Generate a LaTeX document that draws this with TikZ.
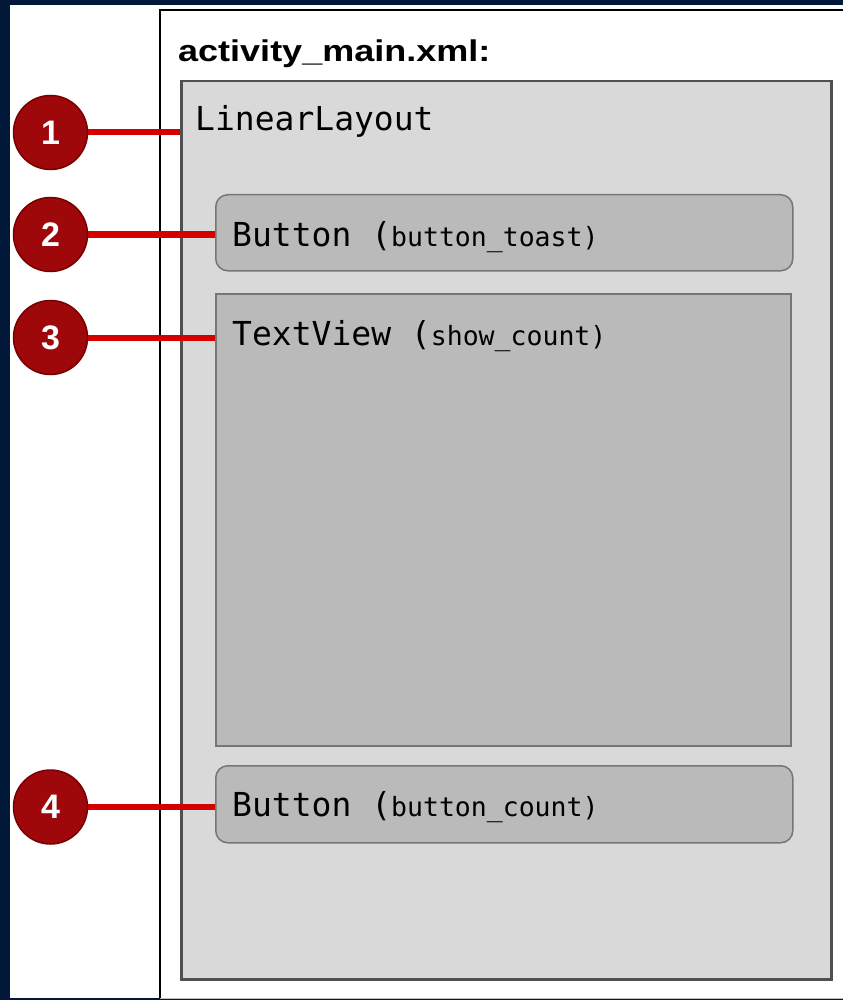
\documentclass[tikz,border=0pt]{standalone}
\usepackage{fontspec}
\setmainfont{Liberation Sans}
\setmonofont{DejaVu Sans Mono}
\usetikzlibrary{positioning}

\definecolor{navy}{RGB}{2,24,56}
\definecolor{layoutgray}{RGB}{217,217,217}
\definecolor{layoutline}{RGB}{80,80,80}
\definecolor{widgetgray}{RGB}{186,186,186}
\definecolor{widgetline}{RGB}{118,118,118}
\definecolor{badgered}{RGB}{158,8,10}
\definecolor{badgeline}{RGB}{120,0,0}
\definecolor{pinred}{RGB}{212,0,0}

\newcommand{\viewid}[1]{{\fontsize{26.5}{26.5}\selectfont #1}}

\begin{document}
\begin{tikzpicture}[x=1pt,y=-1pt]
        \tikzstyle{every node}+=[inner sep=0pt]
        \tikzset{
          badge/.style={circle,draw=badgeline,line width=1.5pt,fill=badgered,minimum size=74pt,
            text=white,font=\fontsize{34}{34}\bfseries\selectfont},
          widget/.style={draw=widgetline,line width=1.5pt,fill=widgetgray,anchor=north west},
          pin/.style={draw=pinred,line width=6pt},
          lbl/.style={anchor=base west,font=\fontsize{33}{33}\ttfamily\selectfont}
        }
        \useasboundingbox (0,0) rectangle (843,1000);
        \fill [navy] (0,0) rectangle (843,1000);
        \fill [white] (10,5) rectangle (843,998);
        \draw [black,line width=2pt] (843,10) -- (160,10) -- (160,998);
        \draw [black!25,line width=1pt] (160,998) -- (843,998);
        \node [anchor=base west] (title) at (178,62) {\scalebox{1.2}[1]{\fontsize{30}{30}\bfseries\selectfont activity\_main.xml:}};
        % layout and its views
        \node [widget,draw=layoutline,fill=layoutgray,line width=2.5pt,minimum width=650pt,minimum height=898pt] (linlay) at (180,80) {};
        \node [widget,rounded corners=12pt,minimum width=577pt,minimum height=76pt] (btntoast) at (215,194) {};
        \node [widget,minimum width=575pt,minimum height=452pt] (txtview) at (215,293) {};
        \node [widget,rounded corners=12pt,minimum width=577pt,minimum height=77pt] (btncount) at (215,765) {};
        \node [lbl] (linlaytxt) at (195,130.7) {LinearLayout};
        \node [lbl] (toasttxt) at (232,246.7) {Button (\viewid{button\_toast)}};
        \node [lbl] (counttxt) at (232,345) {TextView (\viewid{show\_count)}};
        \node [lbl] (btncounttxt) at (232,816.7) {Button (\viewid{button\_count)}};
        % numbered callouts
        \node [badge] (b1) at (50.5,132.5) {1};
        \node [badge] (b2) at (50.5,234.5) {2};
        \node [badge] (b3) at (50.5,337.5) {3};
        \node [badge] (b4) at (50.5,807) {4};
        \draw [pin] (b1.east) -- (b1.east -| linlay.west);
        \draw [pin] (b2.east) -- (b2.east -| btntoast.west);
        \draw [pin] (b3.east) -- (b3.east -| txtview.west);
        \draw [pin] (b4.east) -- (b4.east -| btncount.west);
        \end{tikzpicture}
\end{document}
